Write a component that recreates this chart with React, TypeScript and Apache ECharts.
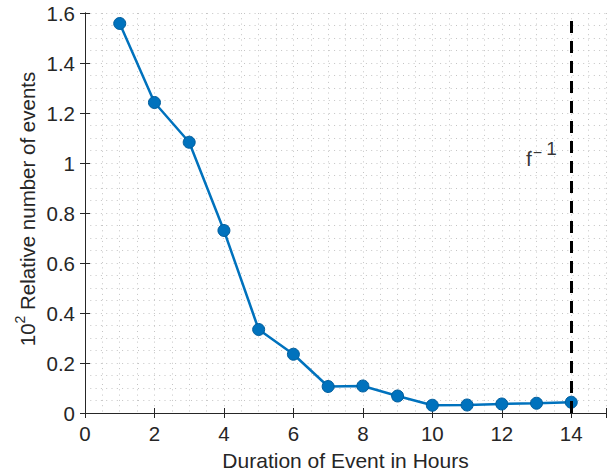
import React, { useEffect, useRef } from "react";
import * as echarts from "echarts";

const hours = [1, 2, 3, 4, 5, 6, 7, 8, 9, 10, 11, 12, 13, 14];
const relEvents = [1.558, 1.242, 1.083, 0.73, 0.334, 0.235, 0.106, 0.108, 0.068, 0.031, 0.032, 0.036, 0.039, 0.043];
const cutoffX = 14;
const annotation = [13.14, 1.035];
const xTitle = "Duration of Event in Hours";
const yTitle = "Relative number of events";

const AX = "#262626";
const GRID = "#c4c4c4";

export default function App() {
  const ref = useRef<HTMLDivElement>(null);
  useEffect(() => {
    if (!ref.current) return;
    const chart = echarts.init(ref.current, undefined, { renderer: "svg" });
    const font = "'Liberation Sans', Arial, Helvetica, sans-serif";
    const splitStyle = { show: true, lineStyle: { color: GRID, type: [1, 4.3], width: 1 } };
    chart.setOption({
      animation: false,
      textStyle: { fontFamily: font },
      grid: { left: 85, right: 4, top: 13, bottom: 62, containLabel: false },
      graphic: [
        {
          type: "text",
          x: 25,
          y: 209,
          rotation: Math.PI / 2,
          style: {
            text: "{a|10}{s|2}{a| " + yTitle + "}",
            align: "center",
            verticalAlign: "middle",
            fill: AX,
            rich: {
              a: { fontSize: 20.5, fill: AX, fontFamily: font, verticalAlign: "bottom", lineHeight: 25 },
              s: { fontSize: 14, fill: AX, fontFamily: font, verticalAlign: "top", lineHeight: 25 },
            },
          },
        },
      ],
      xAxis: [
        {
          type: "value",
          min: 0,
          max: 15,
          interval: 2,
          axisLine: { show: true, onZero: false, lineStyle: { color: AX, width: 1 } },
          axisTick: { show: true, inside: true, length: 5, lineStyle: { color: AX } },
          axisLabel: {
            color: AX,
            fontSize: 20.5,
            margin: 10,
            fontFamily: font,
            formatter: (v: number) => (v > 14 ? "" : String(v)),
          },
          splitLine: splitStyle,
          minorTick: { show: false, splitNumber: 4 },
          minorSplitLine: splitStyle,
          name: xTitle,
          nameLocation: "middle",
          nameGap: 37,
          nameTextStyle: { color: AX, fontSize: 21, fontFamily: font },
        },
        {
          type: "value",
          position: "top",
          min: 0,
          max: 15,
          interval: 2,
          axisLine: { show: true, lineStyle: { color: AX, width: 1 } },
          axisTick: { show: true, inside: true, length: 5, lineStyle: { color: AX } },
          axisLabel: { show: false },
          splitLine: { show: false },
        },
      ],
      yAxis: [
        {
          type: "value",
          min: 0,
          max: 1.6,
          interval: 0.2,
          axisLine: { show: true, onZero: false, lineStyle: { color: AX, width: 1 } },
          axisTick: { show: true, inside: true, length: 5, lineStyle: { color: AX } },
          axisLabel: {
            color: AX,
            fontSize: 20.5,
            margin: 10,
            fontFamily: font,
            formatter: (v: number) => String(Math.round(v * 10) / 10),
          },
          splitLine: splitStyle,
          minorTick: { show: false, splitNumber: 4 },
          minorSplitLine: splitStyle,
        },
        {
          type: "value",
          position: "right",
          min: 0,
          max: 1.6,
          interval: 0.2,
          axisLine: { show: true, lineStyle: { color: AX, width: 1 } },
          axisTick: { show: true, inside: true, length: 5, lineStyle: { color: AX } },
          axisLabel: { show: false },
          splitLine: { show: false },
        },
      ],
      series: [
        {
          type: "line",
          data: hours.map((h, i) => [h, relEvents[i]]),
          symbol: "circle",
          symbolSize: 12,
          lineStyle: { color: "#0072BD", width: 2.5 },
          itemStyle: { color: "#0072BD", borderColor: "#005d9c", borderWidth: 1 },
          z: 3,
          markLine: {
            silent: true,
            symbol: "none",
            label: { show: false },
            lineStyle: { color: "#000", type: [12, 8], width: 3 },
            data: [{ xAxis: cutoffX }],
          },
        },
        {
          type: "scatter",
          data: [annotation],
          symbolSize: 0,
          silent: true,
          label: {
            show: true,
            position: "inside",
            formatter: "{f|f}{s|\u2212}{t|1}",
            rich: {
              f: { fontSize: 21, color: "#000", fontFamily: font, verticalAlign: "bottom", lineHeight: 30 },
              s: { fontSize: 16, color: "#000", fontFamily: font, verticalAlign: "top", lineHeight: 30, padding: [5, 0, 0, 1] },
              t: { fontSize: 19, color: "#000", fontFamily: font, verticalAlign: "top", lineHeight: 30, padding: [0, 0, 0, 4] },
            },
          },
        },
      ],
    });
    return () => chart.dispose();
  }, []);
  return <div ref={ref} style={{ width: 610, height: 476, position: "absolute", left: 0, top: 0 }} />;
}
